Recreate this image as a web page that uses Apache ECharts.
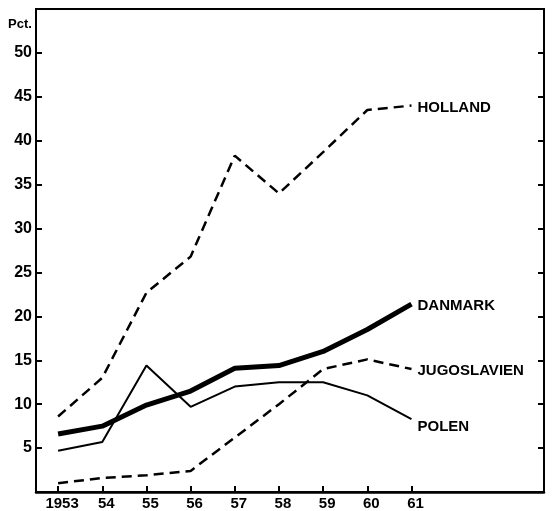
<!DOCTYPE html>
<html>
<head>
<meta charset="utf-8">
<script src="https://cdn.jsdelivr.net/npm/echarts@6/dist/echarts.min.js"></script>
<style>
  html, body { margin: 0; padding: 0; background: #fff; }
  #chart { width: 554px; height: 511px; }
</style>
</head>
<body>
<div id="chart"></div>
<script>
// aar (x) og procent (y)
var years = [1953, 1954, 1955, 1956, 1957, 1958, 1959, 1960, 1961];

var holland = [8.6, 13.0, 22.7, 26.8, 38.3, 34.0, 38.7, 43.5, 44.0];
var danmark = [6.6, 7.5, 9.9, 11.5, 14.1, 14.4, 16.0, 18.5, 21.4];
var jugoslavien = [1.0, 1.6, 1.9, 2.4, 6.2, 10.0, 14.0, 15.1, 14.0];
var polen = [4.7, 5.7, 14.4, 9.7, 12.0, 12.5, 12.5, 11.0, 8.3];

function pairs(vals) {
  return years.map(function (y, i) {
    return [y, vals[i]];
  });
}

var chart = echarts.init(document.getElementById("chart"));
var font = "Liberation Sans";

var endLabel = function (name, offset) {
  return {
    show: true,
    formatter: name,
    distance: 6,
    offset: offset || [0, 0],
    color: "#000",
    fontFamily: font,
    fontWeight: "bold",
    fontSize: 15,
  };
};

var tick = {
  show: true,
  inside: true,
  length: 6,
  lineStyle: { color: "#000", width: 2 },
};

var option = {
  animation: false,
  backgroundColor: "#fff",
  grid: {
    left: 36,
    right: 10,
    top: 9,
    bottom: 19,
    show: true,
    borderColor: "#000",
    borderWidth: 2,
    containLabel: false,
    outerBoundsMode: "none",
  },
  graphic: [
    {
      type: "text",
      left: 8,
      top: 18,
      style: {
        text: "Pct.",
        fill: "#000",
        font: "bold 13px " + font,
      },
    },
  ],
  xAxis: {
    type: "value",
    min: 1952.5,
    max: 1964,
    splitLine: { show: false },
    axisLine: { lineStyle: { color: "#000", width: 2.5 } },
    axisTick: Object.assign({ customValues: years }, tick),
    axisLabel: {
      customValues: years,
      margin: 4,
      padding: [0, 0, 0, 8],
      color: "#000",
      fontFamily: font,
      fontWeight: "bold",
      fontSize: 15,
      formatter: function (v) {
        return v === 1953 ? "1953" : String(v).slice(2);
      },
    },
  },
  yAxis: [
    {
      type: "value",
      min: 0,
      max: 55,
      interval: 5,
      splitLine: { show: false },
      axisLine: { show: true, lineStyle: { color: "#000", width: 2 } },
      axisTick: tick,
      axisLabel: {
        margin: 4,
        color: "#000",
        fontFamily: font,
        fontWeight: "bold",
        fontSize: 16,
        formatter: function (v) {
          return v === 0 || v === 55 ? "" : String(v);
        },
      },
    },
    {
      type: "value",
      position: "right",
      min: 0,
      max: 55,
      interval: 5,
      splitLine: { show: false },
      axisLine: { show: true, lineStyle: { color: "#000", width: 2 } },
      axisTick: tick,
      axisLabel: { show: false },
    },
  ],
  series: [
    {
      name: "HOLLAND",
      type: "line",
      data: pairs(holland),
      showSymbol: false,
      lineStyle: { color: "#000", width: 2.5, type: [10, 6] },
      endLabel: endLabel("HOLLAND", [0, 2]),
    },
    {
      name: "DANMARK",
      type: "line",
      data: pairs(danmark),
      showSymbol: false,
      lineStyle: { color: "#000", width: 5 },
      endLabel: endLabel("DANMARK", [0, 2]),
    },
    {
      name: "JUGOSLAVIEN",
      type: "line",
      data: pairs(jugoslavien),
      showSymbol: false,
      lineStyle: { color: "#000", width: 2.5, type: [10, 6] },
      endLabel: endLabel("JUGOSLAVIEN", [0, 2]),
    },
    {
      name: "POLEN",
      type: "line",
      data: pairs(polen),
      showSymbol: false,
      lineStyle: { color: "#000", width: 2 },
      endLabel: endLabel("POLEN", [0, 8]),
    },
  ],
};

chart.setOption(option);
</script>
</body>
</html>
